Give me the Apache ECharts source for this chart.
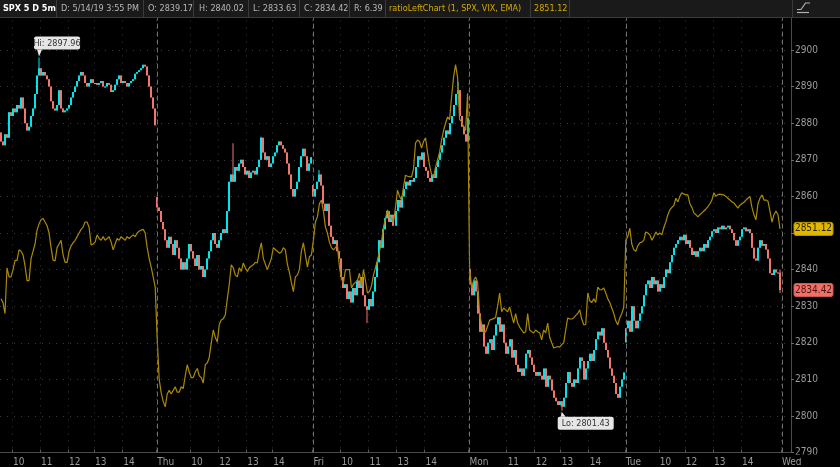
<!DOCTYPE html>
<html><head><meta charset="utf-8">
<script src="https://cdn.jsdelivr.net/npm/echarts@6/dist/echarts.min.js"></script>
<style>html,body{margin:0;padding:0;background:#000;}#c{width:840px;height:467px;}</style>
</head><body><div id="c"></div>
<script>
// ---------------- DATA ----------------
const dayNames = ['Wed', 'Thu', 'Fri', 'Mon', 'Tue'];
const dayOpens = [2877.49, 2859.84, 2863.10, 2840.19, 2820.12];

const wedClose = [
 2875,2874,2877,2876,2883,2882,2884,2883,2885,2884,
 2887,2884,2880,2878,2879,2882,2884,2888,2893,2895,
 2893,2894,2893,2892,2890,2886,2884,2883.5,2885,2889,
 2884,2883,2883.5,2884,2885,2887,2888.5,2890,2891.5,2893,
 2894,2893,2891,2890,2891,2892,2891,2891,2890.5,2891,
 2891.5,2890,2890,2891,2890.5,2888.5,2889,2890.5,2892,2893,
 2891,2891.5,2891,2890,2891,2891.5,2892,2893.5,2894,2894.5,
 2895,2896,2895.5,2893,2890,2887,2884,2879.42];
const thuClose = [
 2857,2856,2853,2851,2848,2846,2849,2847,2844,2848,
 2846,2843,2840,2842,2840,2843,2847,2845,2843,2841,
 2844,2840,2841,2838,2840,2843,2845,2848,2850,2847,
 2846,2848,2850,2851,2850,2856,2864,2866,2864,2868,
 2867,2869,2870,2868,2866,2867,2865,2866.5,2867,2866,
 2868,2870,2876,2872,2870,2871,2868,2869,2871,2872,
 2874,2875,2874,2873,2872,2869,2866,2862,2860,2862,
 2864,2868,2871,2873,2871,2867,2869,2870.72];
const friClose = [
 2860,2862,2864,2866,2863,2858,2856,2858,2852,2849,
 2847,2848,2845,2843,2838,2835,2836,2832,2834,2831,
 2835,2833,2837,2835,2838,2833,2830,2829,2832,2830,
 2834,2838,2842,2848,2846,2851,2854,2856,2853,2855,
 2852,2856,2859,2857,2860,2862,2864,2863,2864.5,2864,
 2865,2868,2871,2870,2872,2868,2867,2865,2864,2866,
 2865,2868,2870,2872,2874,2876,2878,2877,2880,2882,
 2885,2888,2889,2882,2879,2877,2875,2881.40];
const monClose = [
 2836,2833,2837,2834,2828,2823,2825,2819,2817,2820,
 2821,2818,2822,2825,2827,2823,2825,2820,2817,2819,
 2821,2816,2818,2814,2812,2813,2811,2813,2817,2818,
 2816,2814,2812,2811,2812,2811,2810,2813,2808,2811,
 2810,2807,2805,2804,2803,2804,2802.5,2805,2809,2812,
 2809,2808,2810,2809,2813,2816,2815,2810,2813,2815,
 2817,2815,2818,2821,2823,2822,2824,2820,2818,2816,
 2813,2811,2809,2806,2805,2808,2810,2811.87];
const tueClose = [
 2824,2826,2823,2830,2826,2824,2826,2828,2830,2833,
 2836,2837,2835,2838,2836,2837,2834,2836,2835,2838,
 2840,2839,2842,2844,2846,2847,2848,2849,2848,2849.5,
 2847,2848,2846,2844,2845,2843.5,2845,2846,2845,2847,
 2846,2848,2849,2850.5,2851,2850,2851.5,2851,2852,2851,
 2851.5,2852,2851,2850,2848,2846.5,2848,2849,2851,2851.5,
 2850.5,2851,2850,2846,2843,2842.5,2846,2848,2846.5,2847,
 2845.5,2843,2839,2838.5,2840,2839.2,2839.17,2834.42];

// notable wicks (bar index -> value)
const wickHigh = {19: 2897.96, 116: 2874.5, 130: 2876.3, 159: 2867.2, 228: 2891.31, 389: 2840.02};
const wickLow  = {183: 2825.39, 280: 2801.43, 389: 2833.63};

// ratioLeftChart (SPX/VIX EMA) line, expressed on the price scale
const wedRatio = [
 2832,2831,2828,2840.5,2838,2838,2840,2842.5,2842.5,2845.4,
 2845,2844,2841,2837,2837,2843,2845,2847,2850.8,2852.5,
 2853.6,2854,2853,2852,2850,2846,2842.6,2842.4,2846,2847,
 2848,2844,2842,2842,2845,2846.5,2847.3,2848,2849,2850,
 2851,2851.6,2853,2853,2851.5,2846.7,2847,2847.5,2849.5,2848.5,
 2848,2849,2848,2848.5,2849,2847.5,2845.4,2847,2848.5,2848,
 2849,2848.5,2848,2849,2848.5,2849,2849.5,2849,2850,2850.5,
 2850.8,2851,2850,2846,2843,2840.7,2838,2835.2];
const thuRatio = [
 2821,2810,2806.3,2804,2802.5,2806,2807,2806,2807,2808,
 2806.5,2806.5,2808,2807.5,2811,2814,2812,2810.5,2810.5,2812,
 2813,2811,2810.5,2809,2814,2814.5,2816,2820,2823.5,2821.5,
 2820.2,2825,2826.2,2826.6,2827.6,2832,2836,2841.3,2840.5,2838.5,
 2838,2840.5,2839.5,2841.8,2840.5,2839.5,2840.5,2841,2841.3,2842,
 2841.8,2845,2847.3,2843,2841.5,2840,2841.5,2843,2846,2845.5,
 2845,2844.5,2844.8,2846,2845.4,2841.5,2839.3,2836.5,2834,2838,
 2838.5,2840,2845,2847.3,2844,2840.7,2843.5,2844];
const friRatio = [
 2848,2853,2854.4,2858,2859,2856,2851.6,2850,2847.5,2846,
 2845.4,2846,2846.7,2840.7,2837.5,2836.3,2840,2840,2840,2835,
 2836,2836.5,2837,2839,2835.5,2840,2837,2833.6,2834,2835.5,
 2838.5,2840.5,2842.6,2845,2847.5,2851.6,2854,2856.3,2854.5,2854,
 2853,2857,2861.7,2860,2859,2862.6,2865.8,2865.5,2865.4,2865.3,
 2867.5,2874.6,2875.4,2875,2873.2,2875,2876,2872,2868.5,2866,
 2865.3,2868,2870,2872,2875.4,2878,2880,2881.7,2881,2887.2,
 2892.6,2896,2892.5,2881,2880.5,2879,2878,2888.2];
const monRatio = [
 2840.7,2835,2837,2838,2836.5,2828,2825,2822.7,2823,2824.5,
 2826.2,2826.4,2826.6,2827,2830,2833.6,2828.5,2829.5,2829,2828.5,
 2829.8,2827.5,2825.4,2828,2825.4,2824.3,2823.5,2822.7,2823,2828,
 2823.5,2823,2822.7,2823.5,2823,2822.7,2820.8,2823.5,2822.7,2825.4,
 2821.5,2820,2818.6,2818.8,2819,2818.8,2819.5,2820,2823.5,2826.8,
 2826.5,2826.5,2826.8,2827.5,2828,2829,2826.5,2824.9,2825,2833.6,
 2831.5,2831,2832,2831,2835.2,2834.5,2834.5,2835,2833.6,2832,
 2831,2829.5,2828,2826,2824.9,2826.8,2828,2829.8];
const tueRatio = [
 2848,2849,2851.3,2847,2845.4,2845,2846.5,2847.3,2847.5,2848,
 2850.3,2850,2849.5,2848,2849,2850.3,2849.5,2850,2849.5,2851.5,
 2853,2855,2856.3,2857,2857.5,2859.5,2858.5,2860,2861,2860.6,
 2860.5,2860.4,2858,2857,2855.5,2855,2854.4,2855,2855.5,2856,
 2856.5,2857.2,2858,2859,2861,2860,2860.5,2860.6,2860.5,2860.4,
 2860,2859.5,2859,2858.5,2858.2,2857.5,2856.8,2857.6,2858,2858.4,
 2859,2859.5,2860,2857,2855,2853.6,2858,2859.5,2860.4,2859,
 2859,2858.7,2856,2853,2855,2856,2855,2851.12];

// x-axis tick positions (bar index) and their labels
const tickIndex = [6,20,34,47,61, 78,95,109,123,136, 156,170,184,198,212, 234,253,267,280,294, 312,329,342,356,370, 390];
const tickText  = ['10','11','12','13','14','Thu','10','12','13','14','Fri','10','11','13','14','Mon','11','12','13','14','Tue','10','12','13','14','Wed'];
const daySeparators = [78, 156, 234, 312, 390];

const headerCells = ['SPX 5 D 5m', 'D: 5/14/19 3:55 PM', 'O: 2839.17', 'H: 2840.02', 'L: 2833.63', 'C: 2834.42', 'R: 6.39'];
const ratioTitle = 'ratioLeftChart (1, SPX, VIX, EMA)';
const lastRatio = 2851.12, lastClose = 2834.42;
const hiValue = 2897.96, loValue = 2801.43;

// ---------------- BUILD ----------------
const UP = '#00e6ea', DOWN = '#f0766e', GOLD = '#a98a08';
const days = [wedClose, thuClose, friClose, monClose, tueClose];
const ratioDays = [wedRatio, thuRatio, friRatio, monRatio, tueRatio];
const candles = [];   // [index, open, close, low, high]
let idx = 0;
days.forEach((arr, d) => {
  arr.forEach((c, j) => {
    const o = j === 0 ? dayOpens[d] : arr[j - 1];
    let hi = Math.max(o, c), lo = Math.min(o, c);
    if (wickHigh[idx] !== undefined) hi = wickHigh[idx];
    if (wickLow[idx] !== undefined) lo = wickLow[idx];
    candles.push([idx, o, c, lo, hi]);
    idx++;
  });
});
const ratio = [].concat(...ratioDays);
const nBars = candles.length;
const cats = [];
for (let i = 0; i < nBars + 5; i++) cats.push(String(i));
const tickSet = new Set(tickIndex);
const tickMap = {};
tickIndex.forEach((t, k) => tickMap[t] = tickText[k]);

const FONT = "'Liberation Sans Narrow','DejaVu Sans Condensed','Roboto Condensed','Liberation Sans',sans-serif";

function renderCandle(params, api) {
  const i = api.value(0), o = api.value(1), c = api.value(2), lo = api.value(3), hi = api.value(4);
  const pO = api.coord([i, o]), pC = api.coord([i, c]), pL = api.coord([i, lo]), pH = api.coord([i, hi]);
  const col = c >= o ? UP : DOWN;
  const x = Math.round(pO[0]);
  const top = Math.min(pO[1], pC[1]);
  const h = Math.max(Math.abs(pO[1] - pC[1]), 1);
  return {type: 'group', children: [
    {type: 'rect', shape: {x: x - 0.5, y: Math.min(pH[1], top), width: 1, height: Math.max(pL[1], top + h) - Math.min(pH[1], top)}, style: {fill: col}},
    {type: 'rect', shape: {x: x - 1, y: top, width: 2, height: h}, style: {fill: col}}
  ]};
}

const chart = echarts.init(document.getElementById('c'), null, {renderer: 'canvas'});
chart.setOption({
  backgroundColor: '#000',
  animation: false,
  grid: {left: 0, right: 49, top: 13.4, bottom: 14.4, outerBoundsMode: 'none'},
  xAxis: {
    type: 'category', data: cats, boundaryGap: true,
    axisLine: {show: true, lineStyle: {color: '#4a4a4a'}},
    axisTick: {show: true, inside: true, length: 3, interval: (i) => tickSet.has(i), lineStyle: {color: '#5a5a5a'}},
    axisLabel: {interval: (i) => tickSet.has(i), formatter: (v, i) => tickMap[i] || '', color: '#9c9c9c',
      fontSize: 10, fontFamily: FONT, align: 'left', margin: 5},
    splitLine: {show: true, interval: (i) => tickSet.has(i), lineStyle: {color: '#3a3a3a', type: [1, 6]}}
  },
  yAxis: {
    type: 'value', position: 'right', min: 2790, max: 2910, interval: 10, scale: true,
    axisLine: {show: true, lineStyle: {color: '#4a4a4a'}},
    axisTick: {show: true, length: 3, lineStyle: {color: '#6a6a6a'}},
    axisLabel: {color: '#9c9c9c', fontSize: 10, fontFamily: FONT, margin: 4, formatter: (v) => v === 2910 ? '' : String(v)},
    splitLine: {show: true, lineStyle: {color: '#3a3a3a', type: [1, 6]}}
  },
  series: [
    {
      type: 'custom', data: candles, renderItem: renderCandle, progressive: 0,
      encode: {x: 0, y: [1, 2, 3, 4]}, clip: true, z: 2,
      markLine: {
        silent: true, symbol: ['none', 'none'], label: {show: false},
        lineStyle: {color: '#6e6e6e', type: [5, 3], width: 1},
        data: daySeparators.map(s => ({xAxis: s}))
      }
    },
    {
      type: 'line', data: ratio, symbol: 'none', showSymbol: false,
      lineStyle: {color: GOLD, width: 1.2}, z: 3
    }
  ]
});

// ---------------- OVERLAYS ----------------
const g = [];
const HF = '9px ' + FONT;
g.push({type: 'rect', shape: {x: 0, y: 0, width: 840, height: 17}, style: {fill: '#1a1a1a'}, z: 100});
g.push({type: 'line', shape: {x1: 0, y1: 17.5, x2: 840, y2: 17.5}, style: {stroke: '#3c3c3c', lineWidth: 1}, z: 101});
const cellX = [3, 61, 148, 199, 253, 304, 354];
const sepX = [56, 143, 193, 248, 299, 349, 385, 530, 569, 792];
sepX.forEach(x => g.push({type: 'line', shape: {x1: x + 0.5, y1: 0, x2: x + 0.5, y2: 17}, style: {stroke: '#3a3a3a', lineWidth: 1}, z: 101}));
headerCells.forEach((t, k) => g.push({type: 'text', x: cellX[k], y: 9, z: 102,
  style: {text: t, fill: k === 0 ? '#ffffff' : '#b8b8b8', font: (k === 0 ? 'bold ' : '') + HF, verticalAlign: 'middle'}}));
g.push({type: 'text', x: 389, y: 9, z: 102, style: {text: ratioTitle, fill: '#d4aa00', font: HF, verticalAlign: 'middle'}});
g.push({type: 'text', x: 534, y: 9, z: 102, style: {text: lastRatio.toFixed(2), fill: '#d4aa00', font: HF, verticalAlign: 'middle'}});
g.push({type: 'polyline', shape: {points: [[797, 9.5], [801, 9.5], [805.5, 3], [810, 3]]}, style: {stroke: '#b0b0b0', lineWidth: 1.2, fill: null}, z: 102});
g.push({type: 'line', shape: {x1: 797, y1: 12.5, x2: 809, y2: 12.5}, style: {stroke: '#b0b0b0', lineWidth: 1.2}, z: 102});
g.push({type: 'rect', shape: {x: 792, y: 454.5, width: 48, height: 3.5}, style: {fill: '#000'}, z: 100});

// price tags
const yR = chart.convertToPixel({yAxisIndex: 0}, lastRatio);
const yC = chart.convertToPixel({yAxisIndex: 0}, lastClose);
g.push({type: 'rect', shape: {x: 794, y: yR - 6.5, width: 39, height: 13, r: 2}, style: {fill: '#e0b800', stroke: '#b89600'}, z: 103});
g.push({type: 'text', x: 813.5, y: yR, z: 104, style: {text: lastRatio.toFixed(2), fill: '#2e2600', font: '10px ' + FONT, align: 'center', verticalAlign: 'middle'}});
g.push({type: 'rect', shape: {x: 794, y: yC - 6.5, width: 39, height: 13, r: 2}, style: {fill: '#f07068', stroke: '#c85a54'}, z: 103});
g.push({type: 'text', x: 813.5, y: yC, z: 104, style: {text: lastClose.toFixed(2), fill: '#4a1412', font: '10px ' + FONT, align: 'center', verticalAlign: 'middle'}});

// Hi / Lo callouts
const hiBar = candles.findIndex(d => d[4] === hiValue);
const loBar = candles.findIndex(d => d[3] === loValue);
const hp = chart.convertToPixel({xAxisIndex: 0, yAxisIndex: 0}, [hiBar, hiValue]);
const lp = chart.convertToPixel({xAxisIndex: 0, yAxisIndex: 0}, [loBar, loValue]);
(function () {
  const CF = '9px ' + FONT;
  const bx = hp[0] - 5, bh = 13, by = hp[1] - 8 - bh, bw = 46;
  g.push({type: 'rect', shape: {x: bx, y: by, width: bw, height: bh, r: 2}, style: {fill: '#e6e6e6'}, z: 103});
  g.push({type: 'polygon', shape: {points: [[hp[0] - 2, by + bh], [hp[0] + 3, by + bh], [hp[0], hp[1] - 1]]}, style: {fill: '#e6e6e6'}, z: 103});
  g.push({type: 'text', x: bx + bw / 2, y: by + bh / 2 + 0.5, z: 104, style: {text: 'Hi: ' + hiValue.toFixed(2), fill: '#333', font: CF, align: 'center', verticalAlign: 'middle'}});
  const lx = lp[0] - 4, ly = lp[1] + 6, lw = 56;
  g.push({type: 'rect', shape: {x: lx, y: ly, width: lw, height: bh, r: 2}, style: {fill: '#e6e6e6'}, z: 103});
  g.push({type: 'polygon', shape: {points: [[lp[0] - 1, ly], [lp[0] + 4, ly], [lp[0], lp[1] + 1]]}, style: {fill: '#e6e6e6'}, z: 103});
  g.push({type: 'text', x: lx + lw / 2, y: ly + bh / 2 + 0.5, z: 104, style: {text: 'Lo: ' + loValue.toFixed(2), fill: '#333', font: CF, align: 'center', verticalAlign: 'middle'}});
})();

chart.setOption({graphic: g});
</script>
</body></html>
